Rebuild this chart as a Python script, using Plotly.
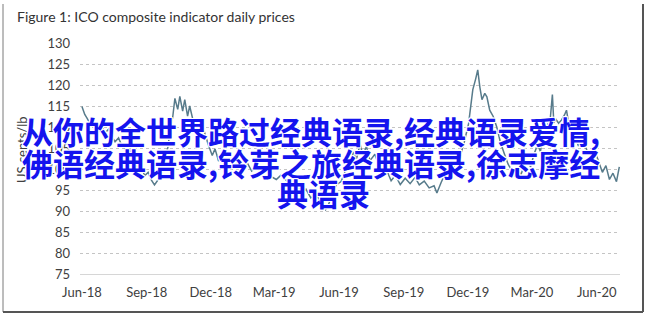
import plotly.graph_objects as go

dates = [
    "2018-06-01","2018-06-05","2018-06-08","2018-06-12","2018-06-15","2018-06-20","2018-06-25","2018-06-29",
    "2018-07-04","2018-07-09","2018-07-13","2018-07-18","2018-07-23","2018-07-27","2018-08-01","2018-08-06",
    "2018-08-10","2018-08-15","2018-08-20","2018-08-24","2018-08-29","2018-09-03","2018-09-07","2018-09-12",
    "2018-09-17","2018-09-21","2018-09-26","2018-10-01","2018-10-04","2018-10-08","2018-10-11","2018-10-15",
    "2018-10-18","2018-10-22","2018-10-25","2018-10-29","2018-11-01","2018-11-06","2018-11-12","2018-11-16",
    "2018-11-21","2018-11-27","2018-12-03","2018-12-07","2018-12-12","2018-12-17","2018-12-21","2018-12-28",
    "2019-01-04","2019-01-10","2019-01-16","2019-01-22","2019-01-28","2019-02-04","2019-02-11","2019-02-18",
    "2019-02-25","2019-03-04","2019-03-11","2019-03-18","2019-03-25","2019-04-01","2019-04-08","2019-04-15",
    "2019-04-22","2019-04-29","2019-05-06","2019-05-13","2019-05-17","2019-05-22","2019-05-28","2019-06-04",
    "2019-06-10","2019-06-17","2019-06-21","2019-06-26","2019-07-01","2019-07-05","2019-07-10","2019-07-15",
    "2019-07-22","2019-07-29","2019-08-02","2019-08-08","2019-08-14","2019-08-20","2019-08-27","2019-09-03",
    "2019-09-10","2019-09-17","2019-09-23","2019-09-30","2019-10-07","2019-10-14","2019-10-18","2019-10-24",
    "2019-10-30","2019-11-05","2019-11-12","2019-11-20","2019-11-26","2019-12-02","2019-12-05","2019-12-08",
    "2019-12-12","2019-12-15","2019-12-18","2019-12-21","2019-12-25","2019-12-28","2020-01-01","2020-01-06",
    "2020-01-11","2020-01-16","2020-01-21","2020-01-27","2020-01-31","2020-02-05","2020-02-10","2020-02-14",
    "2020-02-19","2020-02-24","2020-02-28","2020-03-04","2020-03-09","2020-03-13","2020-03-18","2020-03-23",
    "2020-03-27","2020-03-30","2020-04-01","2020-04-04","2020-04-08","2020-04-12","2020-04-16","2020-04-19",
    "2020-04-22","2020-04-27","2020-05-01","2020-05-06","2020-05-12","2020-05-18","2020-05-24","2020-05-30",
    "2020-06-04","2020-06-09","2020-06-14","2020-06-19","2020-06-24","2020-06-29","2020-07-03",
]

prices = [
    114.9,113.0,112.2,111.0,111.8,110.5,109.0,110.2,
    108.6,109.5,107.8,106.5,107.4,105.8,104.9,105.6,
    103.2,101.5,99.8,100.6,98.4,99.2,97.5,96.2,
    97.4,98.8,101.5,105.2,108.9,112.5,116.8,114.2,
    117.3,113.8,116.5,112.6,115.0,111.4,110.2,108.5,
    109.3,106.0,103.2,104.8,101.9,103.4,101.0,102.3,
    100.8,102.0,100.1,101.4,99.5,100.6,98.9,99.8,
    98.2,97.5,98.6,97.3,96.0,96.8,94.5,95.2,
    93.1,94.0,92.2,90.3,91.5,93.8,96.2,97.0,
    99.5,101.2,104.0,102.5,106.0,103.2,105.4,102.0,
    103.5,100.2,98.4,99.6,97.2,98.5,96.3,97.8,
    96.5,98.0,96.2,97.1,95.5,96.0,94.3,96.8,
    99.0,98.2,101.0,103.0,106.5,110.8,114.5,118.9,
    121.4,123.6,119.5,116.5,118.0,117.2,114.0,112.5,
    110.0,106.5,104.0,101.2,100.0,98.3,100.2,98.5,
    100.8,102.0,100.5,103.6,105.8,104.2,108.5,110.6,
    112.0,117.7,111.0,111.8,110.9,111.7,112.8,114.0,
    111.0,109.2,107.8,105.5,106.8,104.5,103.2,104.0,
    101.5,99.2,100.8,97.5,99.0,97.0,100.5,
]

x_tick_vals = ["2018-06-01","2018-09-01","2018-12-01","2019-03-01","2019-06-01",
               "2019-09-01","2019-12-01","2020-03-01","2020-06-01"]
x_tick_text = ["Jun-18","Sep-18","Dec-18","Mar-19","Jun-19","Sep-19","Dec-19","Mar-20","Jun-20"]
y_tick_vals = [75, 80, 85, 90, 95, 100, 105, 110, 115, 120, 125, 130]

title_text = "Figure 1: ICO composite indicator daily prices"
y_title = "US cents/lb"
overlay_lines = ["从你的全世界路过经典语录,经典语录爱情,",
                 "佛语经典语录,铃芽之旅经典语录,徐志摩经",
                 "典语录"]

W, H = 645, 318
L, R, T, B = 80, 25, 43, 44
PW, PH = W - L - R, H - T - B

def px(x):
    return (x - L) / PW

def py(y):
    return (H - B - y) / PH

fig = go.Figure()
fig.add_trace(go.Scatter(x=dates, y=prices, mode="lines",
                         line=dict(color="#577b8b", width=1.5), showlegend=False))

tick_font = dict(family="Lato", size=13, color="#404040")
fig.update_layout(
    width=W, height=H,
    margin=dict(l=L, r=R, t=T, b=B),
    paper_bgcolor="white", plot_bgcolor="white",
    xaxis=dict(range=["2018-05-29 06:00", "2020-07-04"], tickvals=x_tick_vals, ticktext=x_tick_text,
               showgrid=False, showline=True, linecolor="#d6d6d6", linewidth=1,
               ticks="", tickfont=tick_font, ticklabelstandoff=6, zeroline=False),
    yaxis=dict(range=[75, 130], tickvals=y_tick_vals, showgrid=True, gridcolor="#c4c4c4",
               griddash="dot", gridwidth=1, ticks="", tickfont=tick_font,
               ticklabelstandoff=9, zeroline=False, showline=False),
)

shadow = ("-1px -1px 0 #fff, 1px -1px 0 #fff, -1px 1px 0 #fff, 1px 1px 0 #fff, "
          "0 -1px 0 #fff, 0 1px 0 #fff, -1px 0 0 #fff, 1px 0 0 #fff")
annotations = [
    dict(text=title_text, x=px(15), y=py(16), xref="paper", yref="paper", xanchor="left",
         yanchor="middle", showarrow=False, font=dict(family="Lato", size=14, color="#333333")),
    dict(text=y_title, x=px(22), y=py(150), xref="paper", yref="paper", xanchor="center",
         yanchor="middle", textangle=-90, showarrow=False,
         font=dict(family="Lato", size=13, color="#404040")),
]
for txt, cx, cy in zip(overlay_lines, [311, 311, 323], [130, 162, 192]):
    annotations.append(dict(text=txt, x=px(cx), y=py(cy), xref="paper", yref="paper",
                            xanchor="center", yanchor="middle", showarrow=False,
                            font=dict(family="Noto Sans CJK SC", size=31, color="#1414ee",
                                      weight="bold", shadow=shadow)))
fig.update_layout(annotations=annotations)

shapes = [
    dict(type="line", xref="paper", yref="paper", x0=px(3), x1=px(3), y0=py(4), y1=py(312),
         line=dict(color="#7a7a7a", width=1)),
    dict(type="line", xref="paper", yref="paper", x0=px(3), x1=px(643), y0=py(312), y1=py(312),
         line=dict(color="#555555", width=2)),
    dict(type="line", xref="paper", yref="paper", x0=px(643), x1=px(643), y0=py(4), y1=py(312),
         line=dict(color="#555555", width=2)),
]
fig.update_layout(shapes=shapes)

fig.write_html("out.html")
